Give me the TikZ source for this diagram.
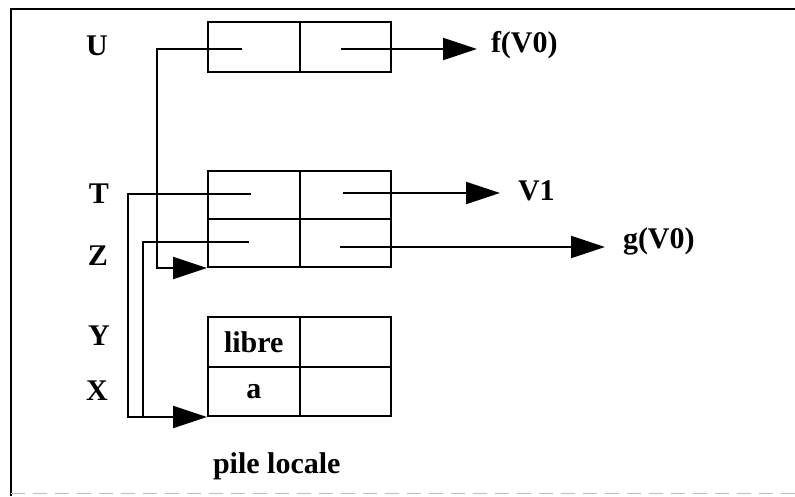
\documentclass[tikz,border=0pt]{standalone}
\usepackage{fontspec}
\setmainfont{Liberation Serif}
\usetikzlibrary{arrows.meta}
\begin{document}
\begin{tikzpicture}[x=1pt,y=-1pt,
  line width=2pt,
  cell/.style={draw, minimum width=91.5pt, inner sep=0pt, line width=2pt,
    font=\fontsize{30}{34}\selectfont\bfseries},
  lbl/.style={inner sep=0pt, font=\fontsize{30}{34}\selectfont\bfseries},
  arr/.style={-{Triangle[length=34pt,width=22pt]}},
]
\useasboundingbox (0,0) rectangle (795,496);
% frame
\draw (11,496) -- (11,9) -- (795,9);
\draw[black!25, line width=1pt, dash pattern=on 14pt off 8pt] (11,493) -- (795,493);

% top box
\node[cell, minimum height=50pt] (u1) at (253.75,47) {};
\node[cell, minimum height=50pt] (u2) at (345.25,47) {};
% middle box
\node[cell, minimum height=48pt] (m11) at (253.75,195) {};
\node[cell, minimum height=48pt] (m12) at (345.25,195) {};
\node[cell, minimum height=48pt] (m21) at (253.75,243) {};
\node[cell, minimum height=48pt] (m22) at (345.25,243) {};
% bottom box (pile locale)
\node[cell, minimum height=49.5pt] (b11) at (253.75,341.75) {libre};
\node[cell, minimum height=49.5pt] (b12) at (345.25,341.75) {};
\node[cell, minimum height=49.5pt] (b21) at (253.75,391.25) {a};
\node[cell, minimum height=49.5pt] (b22) at (345.25,391.25) {};

% left labels
\node[lbl, anchor=base] (U) at (97,55) {U};
\node[lbl, anchor=base] (T) at (99,203) {T};
\node[lbl, anchor=base] (Z) at (98,265) {Z};
\node[lbl, anchor=base] (Y) at (99,345) {Y};
\node[lbl, anchor=base] (X) at (97,400) {X};

% right labels
\node[lbl, anchor=base west] (f) at (490,52) {f(V0)};
\node[lbl, anchor=base west] (v) at (517,200) {V1};
\node[lbl, anchor=base west] (g) at (622,248) {g(V0)};
\node[lbl, anchor=base west] (pile) at (212,473) {pile locale};

% pointer coordinates
\coordinate (pu) at (242,49);
\coordinate (pur) at (341,49);
\coordinate (pt) at (251,194);
\coordinate (ptr) at (343,193);
\coordinate (pz) at (249,242);
\coordinate (pzr) at (340,247);
\coordinate (cu) at (157,49);
\coordinate (ct) at (128,194);
\coordinate (cz) at (143,242);
\coordinate (tf) at (477,49);
\coordinate (tv) at (500,193);
\coordinate (tg) at (605,247);

% connectors
\draw[arr] (pu) -- (cu) |- (m21.south west);
\draw[arr] (pt) -- (ct) |- (b21.south west);
\draw (pz) -- (cz) -- (cz |- b21.south west);
\draw[arr] (pur) -- (tf);
\draw[arr] (ptr) -- (tv);
\draw[arr] (pzr) -- (tg);
\end{tikzpicture}
\end{document}
